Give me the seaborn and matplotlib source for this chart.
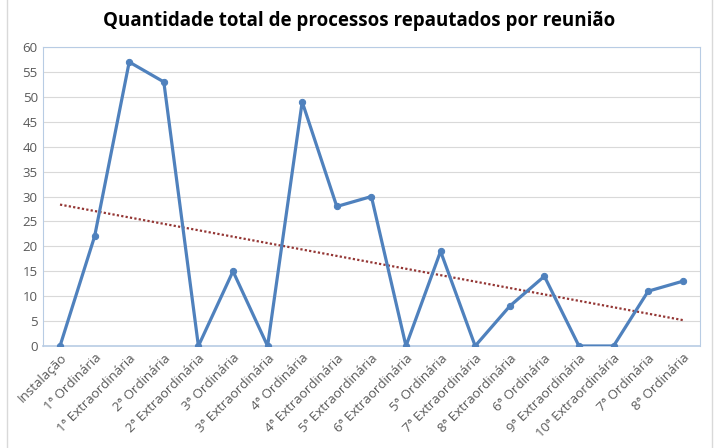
import numpy as np
import pandas as pd
import seaborn as sns
import matplotlib.pyplot as plt
from matplotlib.patches import Rectangle

# Reunioes e processos repautados
reunioes = ["Instalação", "1ª Ordinária", "1ª Extraordinária", "2ª Ordinária",
            "2ª Extraordinária", "3ª Ordinária", "3ª Extraordinária", "4ª Ordinária",
            "4ª Extraordinária", "5ª Extraordinária", "6ª Extraordinária", "5ª Ordinária",
            "7ª Extraordinária", "8ª Extraordinária", "6ª Ordinária", "9ª Extraordinária",
            "10ª Extraordinária", "7ª Ordinária", "8ª Ordinária"]
processos = [0, 22, 57, 53, 0, 15, 0, 49, 28, 30, 0, 19, 0, 8, 14, 0, 0, 11, 13]

df = pd.DataFrame({"pos": np.arange(len(reunioes)), "processos": processos})

sns.set_style("white")
plt.rcParams["font.family"] = ["Open Sans", "DejaVu Sans"]

fig = plt.figure(figsize=(7.18, 4.48), dpi=100)
ax = fig.add_axes([0.0595, 0.2277, 0.9155, 0.6673])

blue = "#4F81BD"
sns.lineplot(data=df, x="pos", y="processos", ax=ax, color=blue, lw=2.3,
             marker="o", markersize=4.5, markeredgecolor=blue, zorder=3)

# linear trend line
coef = np.polyfit(df["pos"], df["processos"], 1)
ax.plot(df["pos"], np.polyval(coef, df["pos"]), color="#943634", lw=1.6,
        ls=(0, (1, 1)), zorder=2)

ax.set_xlim(-0.5, len(reunioes) - 0.5)
ax.set_ylim(0, 60)
ax.set_yticks(range(0, 61, 5))
ax.set_xticks(df["pos"])
ax.set_xticklabels(reunioes, rotation=45, ha="right", rotation_mode="anchor")
ax.set_xlabel("")
ax.set_ylabel("")
ax.tick_params(axis="both", length=0, labelsize=9.5, colors="#595959")
ax.tick_params(axis="x", pad=4)
ax.yaxis.grid(True, color="#D9D9D9", lw=0.8)
ax.set_axisbelow(True)
for s in ax.spines.values():
    s.set_color("#B8CCE4")
    s.set_linewidth(0.8)
ax.spines["bottom"].set_linewidth(1.2)

fig.suptitle("Quantidade total de processos repautados por reunião", y=0.975,
             fontsize=13.5, fontweight="bold", color="#000000")

fig.add_artist(Rectangle((0.01, -0.05), 0.982, 1.1, transform=fig.transFigure,
                         fill=False, edgecolor="#D9D9D9", lw=1))

fig.savefig("out.png", dpi=100)
